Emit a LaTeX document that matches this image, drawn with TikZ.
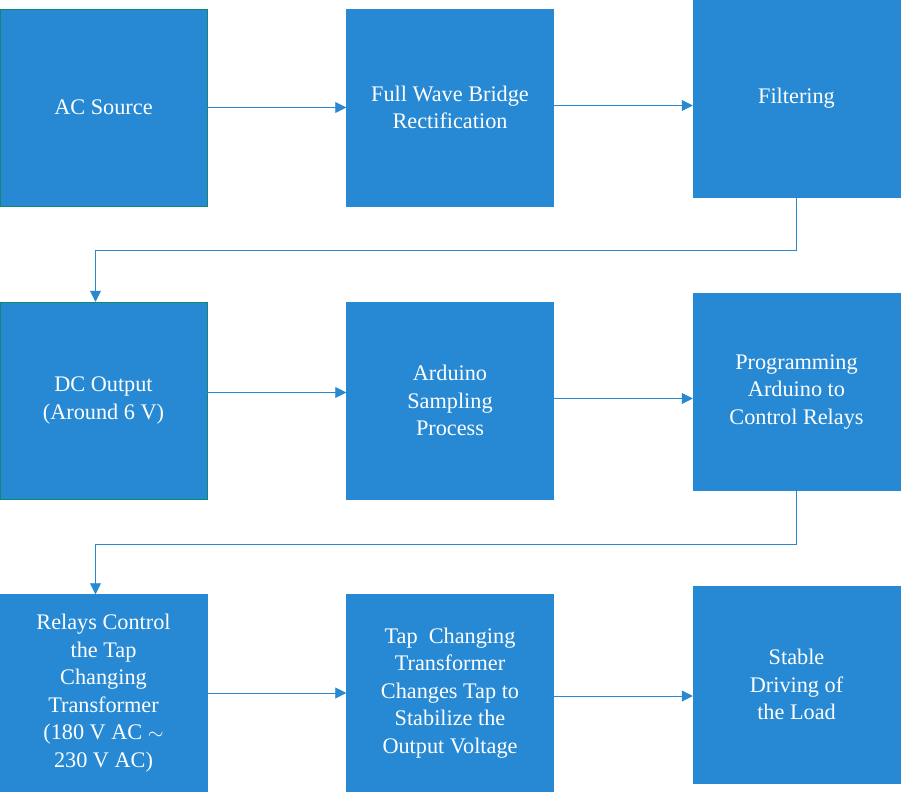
\documentclass[tikz,border=0pt]{standalone}
\usepackage{fontspec}
\setmainfont{Liberation Serif}
\usepackage{tikz}
\usetikzlibrary{calc, arrows.meta}

\definecolor{boxblue}{HTML}{2789D3}
\definecolor{edgegreen}{HTML}{0B8A6D}
\definecolor{lineblue}{HTML}{2A88D0}

\begin{document}
\begin{tikzpicture}[x = 0.03cm, y = -0.03cm,
		block/.style = {fill = boxblue, draw = boxblue, minimum width = 6.21cm, minimum height = 5.91cm,
			inner sep = 0pt, text = white, align = center,
			font = \fontsize{19}{23.5}\selectfont},
		greenblock/.style = {block, draw = edgegreen},
		flow/.style = {draw = lineblue, line width = 0.8pt, -{Triangle[length = 0.33cm, width = 0.33cm]}}]
			\useasboundingbox (0,0) rectangle (901,793);

			% first row
			\node [greenblock] (ac) at (103.5,107.5) {AC Source};
			\node [block] (bridge) at (450,107.5) {Full Wave Bridge\\Rectification};
			\node [block] (filter) at (796.5,98.5) {Filtering};

			% second row
			\node [greenblock] (dcout) at (103.5,400.5) {DC Output\\(Around 6 V)};
			\node [block] (sampling) at (450,400.5) {Arduino\\Sampling\\Process};
			\node [block] (program) at (796.5,392) {Programming\\Arduino to\\Control Relays};

			% third row
			\node [block] (relays) at (103.5,693) {Relays Control\\the Tap\\Changing\\Transformer\\(180 V AC $\sim$\\230 V AC)};
			\node [block] (tapchange) at (450,693) {Tap\ \ Changing\\Transformer\\Changes Tap to\\Stabilize the\\Output Voltage};
			\node [block] (stable) at (796.5,684.5) {Stable\\Driving of\\the Load};

			\coordinate (dcin) at ($ (dcout.north) + (-8,0) $);
			\coordinate (relayin) at ($ (relays.north) + (-8,0) $);

			\draw [flow] (ac.east) -- (ac.east -| bridge.west);
			\draw [flow] ($ (bridge.east) + (0,-2) $) -- ($ (bridge.east -| filter.west) + (0,-2) $);
			\draw [flow] (filter.south) -- ++(0,53) -| (dcin);

			\draw [flow] ($ (dcout.east) + (0,-8) $) -- ($ (dcout.east -| sampling.west) + (0,-8) $);
			\draw [flow] ($ (sampling.east) + (0,-2) $) -- ($ (sampling.east -| program.west) + (0,-2) $);
			\draw [flow] (program.south) -- ++(0,54) -| (relayin);

			\draw [flow] (relays.east) -- (relays.east -| tapchange.west);
			\draw [flow] ($ (tapchange.east) + (0,3) $) -- ($ (tapchange.east -| stable.west) + (0,3) $);
		\end{tikzpicture}
\end{document}
